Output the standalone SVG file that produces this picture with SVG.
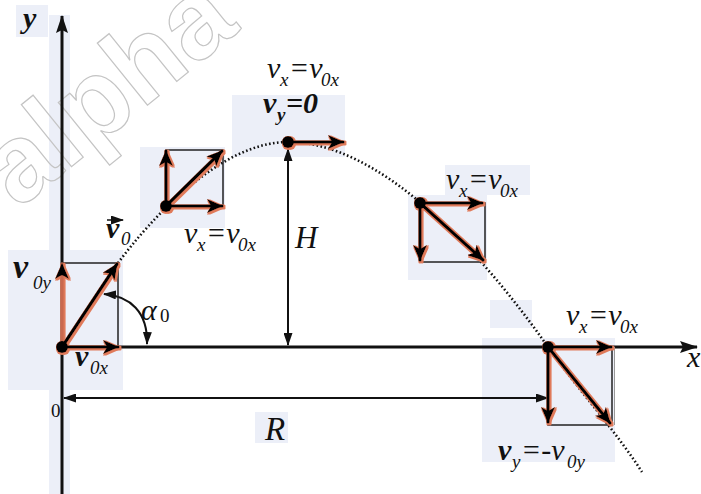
<svg xmlns="http://www.w3.org/2000/svg" width="701" height="494" viewBox="0 0 701 494">
<style>
.bg{fill:#eceff8}
.ax{stroke:#111;stroke-width:3;fill:none}
.vel{stroke:#000;stroke-width:3.2;fill:none;stroke-linecap:round}
.box{stroke:#222;stroke-width:1.5;fill:none}
.dim{stroke:#111;stroke-width:2;fill:none}
.traj{stroke:#111;stroke-width:2.6;fill:none;stroke-dasharray:1.6 2.4}
.dot{fill:#000}
.b{font-weight:bold}
.m{font-size:30px}
.s{font-size:19px}
.n{font-style:normal}
.wm{font-weight:bold;font-size:110px;fill:none;stroke:#c4c4c4;stroke-width:1.2}
</style>
<defs>
<marker id="vh" markerUnits="userSpaceOnUse" viewBox="0 0 16 14" markerWidth="16" markerHeight="14" refX="15" refY="7" orient="auto-start-reverse"><path d="M0,0 L16,7 L0,14 L4,7 z" fill="#000"/></marker>
<marker id="axh" markerUnits="userSpaceOnUse" viewBox="0 0 18 12" markerWidth="18" markerHeight="12" refX="17" refY="6" orient="auto-start-reverse"><path d="M0,0 L18,6 L0,12 L3,6 z" fill="#111"/></marker>
<marker id="sh" markerUnits="userSpaceOnUse" viewBox="0 0 13 9" markerWidth="13" markerHeight="9" refX="12" refY="4.5" orient="auto-start-reverse"><path d="M0,0 L13,4.5 L0,9 z" fill="#111"/></marker>
<filter id="halo" x="-30%" y="-30%" width="160%" height="160%"><feMorphology in="SourceAlpha" operator="dilate" radius="1" result="d"/><feOffset in="d" dx="1" dy="0.5" result="o"/><feFlood flood-color="#e07a5a"/><feComposite in2="o" operator="in" result="c"/><feMerge><feMergeNode in="c"/><feMergeNode in="SourceGraphic"/></feMerge></filter>
</defs>
<rect width="701" height="494" fill="#fff"/>
<g id="backgrounds">
<rect class="bg" x="16" y="5" width="32" height="32"/>
<rect class="bg" x="49" y="15" width="21" height="479"/>
<rect class="bg" x="8" y="250" width="115" height="140"/>
<rect class="bg" x="140" y="147" width="85" height="81"/>
<rect class="bg" x="232" y="95" width="113" height="62"/>
<rect class="bg" x="408" y="195" width="79" height="85"/>
<rect class="bg" x="445" y="165" width="85" height="30"/>
<rect class="bg" x="490" y="300" width="42" height="28"/>
<rect class="bg" x="482" y="338" width="133" height="124"/>
<rect class="bg" x="255" y="412" width="33" height="31"/>
</g>
<text class="wm" font-family="Liberation Sans, Arial, sans-serif" x="18" y="210" transform="rotate(-39 18 210)">alpha</text>
<g font-family="Liberation Serif, Times New Roman, DejaVu Serif, serif" font-style="italic" fill="#111">
<g id="axes">
<line class="ax" x1="62" y1="494" x2="62" y2="16" marker-end="url(#axh)"/>
<line class="ax" x1="62" y1="347" x2="697" y2="347" marker-end="url(#axh)"/>
<text x="23" y="28" class="b" font-size="30">y</text>
<text x="687" y="367" font-size="30">x</text>
<text x="51" y="417" class="s n">0</text>
</g>
<path id="trajectory" class="traj" d="M118,263 C150,220 220,142 288,142 C380,142 480,250 548,347 C580,392 615,430 642,472"/>
<g id="connectors">
<line class="dim" x1="288" y1="149" x2="288" y2="345" marker-start="url(#sh)" marker-end="url(#sh)"/>
<line class="dim" x1="64" y1="398" x2="548" y2="398" stroke="#141430" marker-start="url(#sh)" marker-end="url(#sh)"/>
<path class="dim" d="M104,294 C130,296 148,312 147,344" marker-start="url(#sh)" marker-end="url(#sh)"/>
</g>
<g id="node-start">
<rect class="box" x="62" y="263" width="56" height="84"/>
<g filter="url(#halo)">
<line class="vel" x1="62" y1="347" x2="62" y2="264" marker-end="url(#vh)" style="stroke:#c9694f"/>
<line class="vel" x1="62" y1="347" x2="117" y2="264" marker-end="url(#vh)"/>
<line class="vel" x1="62" y1="347" x2="118" y2="347" marker-end="url(#vh)"/>
<circle class="dot" cx="62" cy="347" r="6"/>
</g>
<text x="13" y="278" class="b" font-size="34">v</text><text x="33" y="289" class="s">0y</text>
<text x="75" y="366" class="m b">v</text><text x="90" y="374" class="s">0x</text>
<path d="M107,220 H123" stroke="#111" stroke-width="1.5" marker-end="url(#sh)"/>
<text x="106" y="238" class="m b">v</text><text x="121" y="245" class="s">0</text>
<text x="141" y="320" class="m">α</text><text x="160" y="322" class="s n">0</text>
</g>
<g id="node-rise">
<rect class="box" x="166" y="150" width="57" height="56"/>
<g filter="url(#halo)">
<line class="vel" x1="166" y1="206" x2="166" y2="151" marker-end="url(#vh)"/>
<line class="vel" x1="166" y1="206" x2="222" y2="206" marker-end="url(#vh)"/>
<line class="vel" x1="166" y1="206" x2="222" y2="151" marker-end="url(#vh)"/>
<circle class="dot" cx="166" cy="206" r="6"/>
</g>
<text x="184" y="243" class="m">v</text><text x="197" y="251" class="s">x</text><text x="206" y="243" class="m">=v</text><text x="238" y="251" class="s">0x</text>
</g>
<g id="node-top">
<g filter="url(#halo)">
<line class="vel" x1="288" y1="142" x2="343" y2="142" marker-end="url(#vh)"/>
<circle class="dot" cx="288" cy="142" r="6"/>
</g>
<text x="267" y="78" class="m">v</text><text x="280" y="86" class="s">x</text><text x="289" y="78" class="m">=v</text><text x="321" y="86" class="s">0x</text>
<text x="263" y="113" class="m b">v</text><text x="277" y="121" class="s b">y</text><text x="286" y="113" class="m b">=0</text>
<text x="295" y="248" font-size="31">H</text>
</g>
<g id="node-fall">
<rect class="box" x="420" y="203" width="65" height="59"/>
<g filter="url(#halo)">
<line class="vel" x1="420" y1="203" x2="482" y2="203" marker-end="url(#vh)"/>
<line class="vel" x1="420" y1="203" x2="420" y2="260" marker-end="url(#vh)"/>
<line class="vel" x1="420" y1="203" x2="483" y2="260" marker-end="url(#vh)"/>
<circle class="dot" cx="420" cy="203" r="6"/>
</g>
<text x="446" y="189" class="m">v</text><text x="459" y="197" class="s">x</text><text x="468" y="189" class="m">=v</text><text x="500" y="197" class="s">0x</text>
</g>
<g id="node-land">
<rect class="box" x="548" y="347" width="64" height="78"/>
<line x1="614.5" y1="347" x2="614.5" y2="425" stroke="#999" stroke-width="1"/>
<g filter="url(#halo)">
<line class="vel" x1="548" y1="347" x2="611" y2="347" marker-end="url(#vh)"/>
<line class="vel" x1="548" y1="347" x2="548" y2="422" marker-end="url(#vh)"/>
<line class="vel" x1="548" y1="347" x2="610" y2="423" marker-end="url(#vh)"/>
<circle class="dot" cx="548" cy="347" r="6"/>
</g>
<text x="566" y="325" class="m">v</text><text x="579" y="333" class="s">x</text><text x="588" y="325" class="m">=v</text><text x="620" y="333" class="s">0x</text>
<text x="498" y="460" class="m b">v</text><text x="512" y="468" class="s">y</text><text x="521" y="460" class="m">=-v</text><text x="567" y="468" class="s">0y</text>
</g>
<text x="265" y="440" font-size="33">R</text>
</g>
</svg>
